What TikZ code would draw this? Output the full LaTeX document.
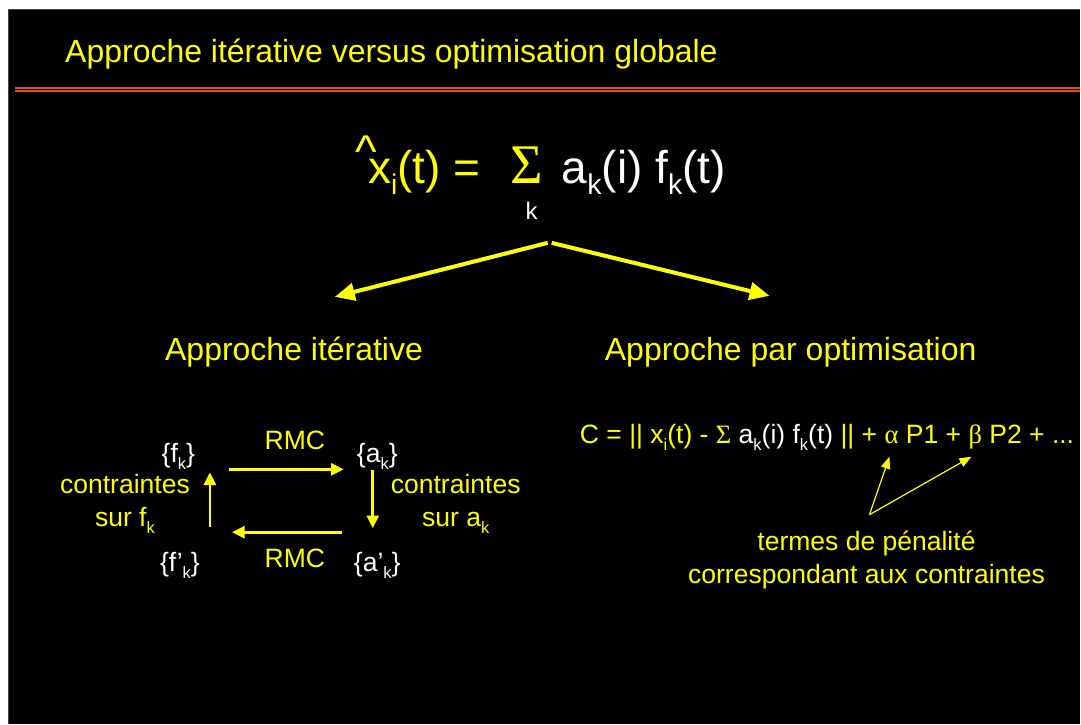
\documentclass[tikz,border=0pt]{standalone}
\usepackage{fontspec}
\setmainfont{Liberation Sans}
\newfontfamily\grk{Liberation Serif}
\usepackage{graphicx}
\usetikzlibrary{arrows.meta,calc}

\definecolor{slideyellow}{RGB}{255,255,0}
\definecolor{ruleorange}{RGB}{224,80,16}
\definecolor{slideedge}{RGB}{70,70,70}

\newcommand{\sub}[1]{\raisebox{-0.24em}{\scalebox{0.62}{#1}}}

\tikzset{
  txt/.style={inner sep=0pt, anchor=base, text=slideyellow},
  big/.style={font=\fontsize{34.5}{40}\selectfont},
  head/.style={font=\fontsize{24}{29}\selectfont},
  small/.style={font=\fontsize{19.9}{24.75}\selectfont},
  bigarrow/.style={slideyellow, line width=3pt, -{Triangle[length=15pt,width=13pt]}},
  cyc/.style={slideyellow, line width=2pt, -{Triangle[length=9.5pt,width=9pt]}},
  pointer/.style={slideyellow, line width=0.9pt, -{Triangle[length=9pt,width=7pt]}},
}

\begin{document}
\begin{tikzpicture}[x=0.75pt,y=-0.75pt]
\fill[white] (0,0) rectangle (1081,724);
\fill[black] (9,10) rectangle (1081,724);
\draw[slideedge, line width=0.75pt] (9,724) -- (9,10) -- (1081,10);

% title and double rule
\node[txt, head, anchor=base west] (title) at (65,63) {Approche itérative versus optimisation globale};
\draw[ruleorange, line width=1pt] (15,88) -- (1081,88);
\draw[ruleorange, line width=1pt] (15,91) -- (1081,91);

% model
\node[txt, big, anchor=base west] (hat) at (355,168) {\textasciicircum};
\node[txt, big, anchor=base west] (lhs) at (368,184) {x\sub{i}(t) =};
\node[txt, anchor=base west, font=\grk\fontsize{42}{42}\selectfont] (sig) at (511,184) {Σ};
\node[txt, text=white, font=\fontsize{18}{18}\selectfont] (sigk) at (532,220) {k};
\node[txt, big, text=white, anchor=base west] (rhs) at (562,184) {a\sub{k}(i) f\sub{k}(t)};

\coordinate (apex) at (550,243);
\coordinate (lefttip) at (335,297);
\coordinate (righttip) at (770,296);
\draw[bigarrow] ($(apex)+(-2,0)$) -- (lefttip);
\draw[bigarrow] ($(apex)+(2,0)$) -- (righttip);

\node[txt, head, anchor=base west] (iterhead) at (165,361) {Approche itérative};
\node[txt, head, anchor=base west] (opthead) at (605,361) {Approche par optimisation};

% iterative loop
\node[txt, small, text=white] (fk) at (178.5,463) {\{f\sub{k}\}};
\node[txt, small, text=white] (ak) at (377.5,463) {\{a\sub{k}\}};
\node[txt, small, text=white] (fpk) at (180,572) {\{f’\sub{k}\}};
\node[txt, small, text=white] (apk) at (377.5,572) {\{a’\sub{k}\}};
\node[txt, small] (rmctop) at (295,450) {RMC};
\node[txt, small] (rmcbot) at (295,568) {RMC};
\node[txt, small, align=center] (consf) at (125,527) {contraintes\\sur f\sub{k}};
\node[txt, small, align=center] (consa) at (456,527) {contraintes\\sur a\sub{k}};

\draw[cyc] ($(fk.south east)+(34,0)$) -- ($(ak.south west)+(-13,0)$);
\draw[cyc] ($(ak.south)+(-4.5,1)$) -- ($(apk.north)+(-4.5,-24)$);
\draw[cyc] ($(apk.north west)+(-12,-20)$) -- ($(fpk.north east)+(32,-20)$);
\draw[cyc] ($(fpk.north)+(30,-25)$) -- ($(fk.south)+(31.5,3)$);

% cost function
\node[txt, small, anchor=base west] (cost) at (580,444) {C = || x\sub{i}(t) - {\grk Σ} \textcolor{white}{a\sub{k}(i) f\sub{k}(t)} || + {\grk α} P1 + {\grk β} P2 + ...};
\node[txt, small, align=center] (penalty) at (867,584) {termes de pénalité\\correspondant aux contraintes};

\coordinate (pen) at (870,515);
\coordinate (alphatip) at (890,457);
\coordinate (betatip) at (972,457);
\draw[pointer] (pen) -- (alphatip);
\draw[pointer] (pen) -- (betatip);
\end{tikzpicture}
\end{document}
